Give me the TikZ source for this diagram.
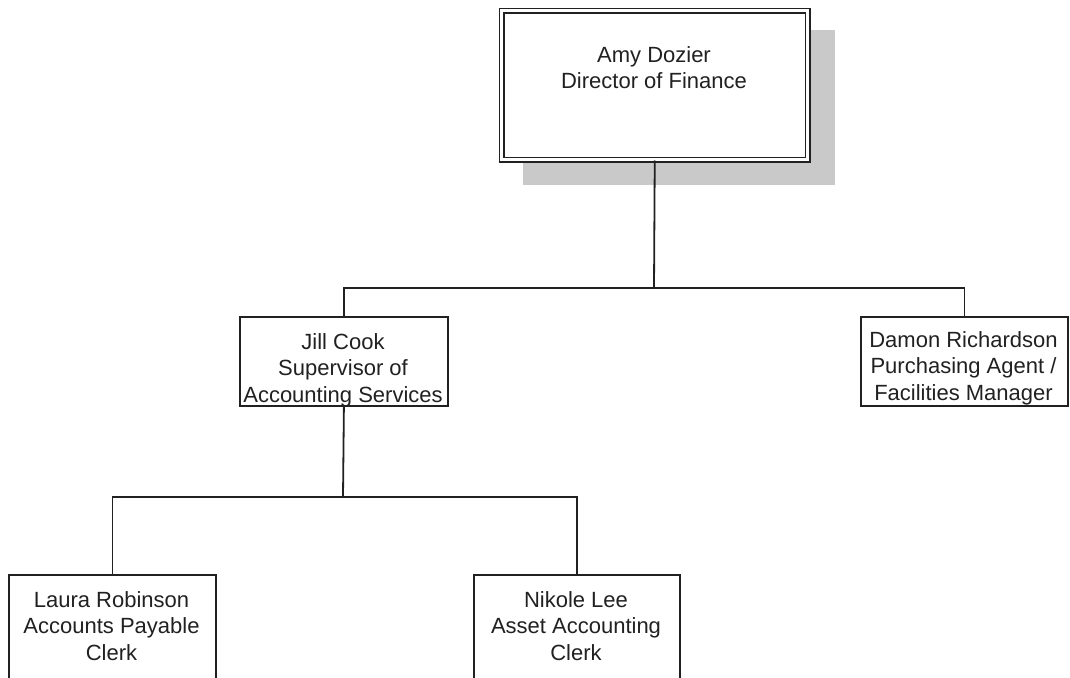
\documentclass[tikz,border=0pt]{standalone}
\usepackage{fontspec}
\setmainfont{Liberation Sans}
\definecolor{ink}{rgb}{0.13,0.13,0.13}
\definecolor{shadowgray}{rgb}{0.79,0.79,0.79}
\begin{document}
\begin{tikzpicture}[x=1pt,y=-1pt,
  box/.style={draw=ink, line width=1.8pt, fill=white, anchor=north west, inner sep=0pt},
  topbox/.style={box, double=white, double distance=2.6pt, line width=1.5pt},
  txt/.style={align=center, font=\fontsize{22}{26.5}\selectfont, text=ink, inner sep=0pt, anchor=base},
  link/.style={draw=ink, line width=1.8pt}]
\useasboundingbox (0,0) rectangle (1070,677);
\clip (0,0) rectangle (1070,677);
\fill[white] (0,0) rectangle (1070,677);

% drop shadow behind the director's box
\fill[shadowgray] (523,30) rectangle (835,185);

% boxes
\node[topbox, minimum width=306, minimum height=149] (amy) at (501,10) {};
\node[box, minimum width=208, minimum height=89] (jill) at (239,316) {};
\node[box, minimum width=207, minimum height=89] (damon) at (860,316) {};
\node[box, minimum width=207, minimum height=130] (laura) at (8,574) {};
\node[box, minimum width=206, minimum height=130] (nikole) at (473,574) {};

% box texts (anchored at the baseline of the last line)
\node[txt] (amy-t) at (654,88.5) {Amy Dozier\\Director of Finance};
\node[txt] (jill-t) at (343,402) {Jill Cook\\Supervisor of\\Accounting Services};
\node[txt] (damon-t) at (963.5,400) {Damon Richardson\\Purchasing Agent /\\Facilities Manager};
\node[txt] (laura-t) at (111.5,660) {Laura Robinson\\Accounts Payable\\Clerk};
\node[txt] (nikole-t) at (576,660) {Nikole Lee\\Asset Accounting\\Clerk};

% reporting lines
\coordinate (bus1) at (654,288);
\coordinate (bus2) at (343,497);
\draw[link] (amy.south) -- (bus1);
\draw[link] (jill.north) |- (bus1) -| (damon.north);
\draw[link] (jill.south) -- (bus2);
\draw[link] (laura.north) |- (bus2) -| (nikole.north);
\end{tikzpicture}
\end{document}
